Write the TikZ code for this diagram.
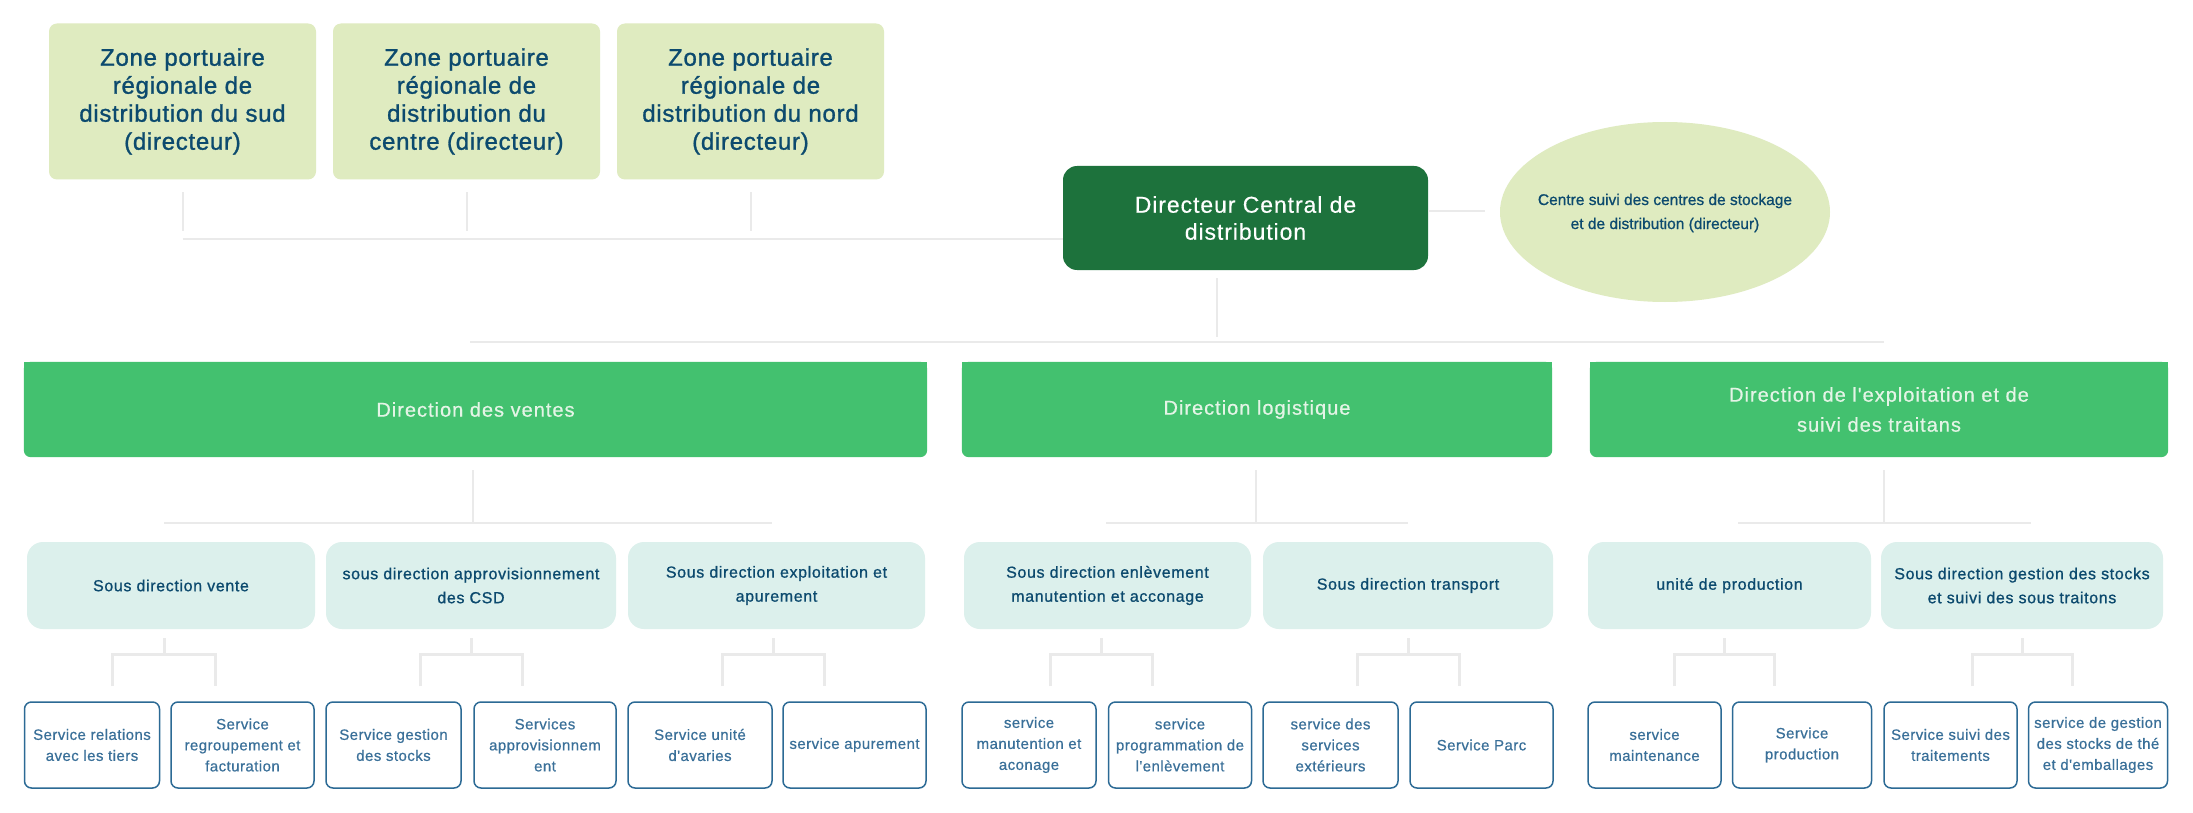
\documentclass[tikz,border=0pt]{standalone}
\usepackage{fontspec}
\setmainfont{Liberation Sans}
\newfontfamily\medF{Liberation Sans}[FakeBold=1.2,LetterSpace=3]
\newfontfamily\sousF{Liberation Sans}[FakeBold=0.9,LetterSpace=4]
\newfontfamily\regF{Liberation Sans}[FakeBold=0.4,LetterSpace=4]
\newfontfamily\dirF{Liberation Sans}[FakeBold=0.6,LetterSpace=5]
\newfontfamily\svcF{Liberation Sans}[FakeBold=0.6,LetterSpace=3]
\newfontfamily\ellF{Liberation Sans}[FakeBold=0.8]
\usetikzlibrary{backgrounds}
\definecolor{topfill}{HTML}{DFEBC0}
\definecolor{navy}{HTML}{0C4A6E}
\definecolor{dirc}{HTML}{1D723C}
\definecolor{dirg}{HTML}{43C16F}
\definecolor{dirtext}{HTML}{E4F4E6}
\definecolor{sousfill}{HTML}{DCF0EC}
\definecolor{svcblue}{HTML}{2C6A95}
\definecolor{svctext}{HTML}{3A7099}
\definecolor{linec}{HTML}{EAEAEA}
\tikzset{
  topbox/.style={fill=topfill, rounded corners=8pt, minimum width=267pt, minimum height=156pt, inner sep=0pt, align=center, text=navy, font=\medF\fontsize{24}{28}\selectfont},
  dcbox/.style={fill=dirc, rounded corners=14pt, minimum width=365pt, minimum height=104pt, inner sep=0pt, align=center, text=white, font=\regF\fontsize{23}{27}\selectfont},
  elltext/.style={inner sep=0pt, align=center, text=navy, font=\ellF\fontsize{15.5}{24}\selectfont},
  dirbox/.style={minimum height=95pt, inner sep=0pt, align=center, text=dirtext, font=\dirF\fontsize{20}{30}\selectfont},
  sousbox/.style={fill=sousfill, rounded corners=16pt, minimum height=87pt, inner sep=0pt, align=center, text=navy, font=\sousF\fontsize{16}{24}\selectfont},
  svcbox/.style={draw=svcblue, line width=1.5pt, fill=white, rounded corners=7pt, minimum height=86pt, inner sep=0pt, align=center, text=svctext, font=\svcF\fontsize{15}{21}\selectfont},
  conn/.style={draw=linec, line width=2pt},
  brk/.style={draw=linec, line width=3pt}
}
\begin{document}
\begin{tikzpicture}[x=1pt,y=-1pt]
\useasboundingbox (0,0) rectangle (2193,813);

% top level
\node[topbox] (t1) at (182.5,101.5) {Zone portuaire\\régionale de\\distribution du sud\\(directeur)};
\node[topbox] (t2) at (466.5,101.5) {Zone portuaire\\régionale de\\distribution du\\centre (directeur)};
\node[topbox] (t3) at (750.5,101.5) {Zone portuaire\\régionale de\\distribution du nord\\(directeur)};
\node[dcbox] (dc) at (1245.5,218) {Directeur Central de\\distribution};
\node[elltext] (el) at (1665,213) {Centre suivi des centres de stockage\\et de distribution (directeur)};

% directions
\node[dirbox, minimum width=903pt] (d1) at (475.5,409.5) {Direction des ventes};
\node[dirbox, minimum width=590pt] (d2) at (1257,409.5) {Direction logistique};
\node[dirbox, minimum width=578pt] (d3) at (1879,409.5) {Direction de l'exploitation et de\\suivi des traitans};
\begin{pgfonlayer}{background}
  \fill[white] (0,0) rectangle (2193,813);
  \fill[topfill] (1665,212) ellipse [x radius=165pt, y radius=90pt];
  \foreach \d in {d1,d2,d3}{
    \fill[dirg, rounded corners=7pt] (\d.north west) rectangle (\d.south east);
    \fill[dirg] (\d.north west) rectangle ([yshift=-30pt]\d.north east);
  }
\end{pgfonlayer}

% sous directions
\node[sousbox, minimum width=288pt] (s1) at (171,585.5) {Sous direction vente};
\node[sousbox, minimum width=290pt] (s2) at (471,585.5) {sous direction approvisionnement\\des CSD};
\node[sousbox, minimum width=297pt] (s3) at (776.5,585.5) {Sous direction exploitation et\\apurement};
\node[sousbox, minimum width=287pt] (s4) at (1107.5,585.5) {Sous direction enlèvement\\manutention et acconage};
\node[sousbox, minimum width=290pt] (s5) at (1408,585.5) {Sous direction transport};
\node[sousbox, minimum width=283pt] (s6) at (1729.5,585.5) {unité de production};
\node[sousbox, minimum width=282pt] (s7) at (2022,585.5) {Sous direction gestion des stocks\\et suivi des sous traitons};

% services
\node[svcbox, minimum width=135pt] (v1) at (92,745) {Service relations\\avec les tiers};
\node[svcbox, minimum width=143pt] (v2) at (242.5,745) {Service\\regroupement et\\facturation};
\node[svcbox, minimum width=135pt] (v3) at (393.5,745) {Service gestion\\des stocks};
\node[svcbox, minimum width=142pt] (v4) at (545,745) {Services\\approvisionnem\\ent};
\node[svcbox, minimum width=144pt] (v5) at (700,745) {Service unité\\d'avaries};
\node[svcbox, minimum width=143pt] (v6) at (854.5,745) {service apurement};
\node[svcbox, minimum width=134pt] (v7) at (1029,745) {service\\manutention et\\aconage};
\node[svcbox, minimum width=143pt] (v8) at (1180,745) {service\\programmation de\\l'enlèvement};
\node[svcbox, minimum width=135pt] (v9) at (1330.5,745) {service des\\services\\extérieurs};
\node[svcbox, minimum width=143pt] (v10) at (1481.5,745) {Service Parc};
\node[svcbox, minimum width=133pt] (v11) at (1654.5,745) {service\\maintenance};
\node[svcbox, minimum width=139pt] (v12) at (1802,745) {Service\\production};
\node[svcbox, minimum width=133pt] (v13) at (1950.5,745) {Service suivi des\\traitements};
\node[svcbox, minimum width=139pt] (v14) at (2098,745) {service de gestion\\des stocks de thé\\et d'emballages};

% connectors: top level
\coordinate (hTop) at (0,239);
\foreach \t in {t1,t2,t3}{
  \draw[conn] ([yshift=-12.5pt]\t.south) -- ([yshift=-51.5pt]\t.south);
}
\draw[conn] (t1.south |- hTop) -- (dc.west |- hTop);
\coordinate (hEl) at (0,211);
\coordinate (elL) at (1485,211);
\draw[conn] (dc.east |- hEl) -- (elL);
\coordinate (dcB1) at (1217,278);
\coordinate (dcB2) at (1217,337);
\draw[conn] (dcB1) -- (dcB2);
\coordinate (hDirL) at (470,342);
\coordinate (hDirR) at (1884,342);
\draw[conn] (hDirL) -- (hDirR);

% connectors: directions to sous directions
\draw[conn] (473,470) coordinate (a1) -- (473,523) coordinate (a2);
\coordinate (l1a) at (164,523); \coordinate (l1b) at (772,523);
\draw[conn] (l1a) -- (l1b);
\draw[conn] (1256,470) coordinate (b1) -- (1256,523) coordinate (b2);
\coordinate (l2a) at (1106,523); \coordinate (l2b) at (1408,523);
\draw[conn] (l2a) -- (l2b);
\draw[conn] (1884,470) coordinate (c1) -- (1884,523) coordinate (c2);
\coordinate (l3a) at (1738,523); \coordinate (l3b) at (2031,523);
\draw[conn] (l3a) -- (l3b);

% brackets under sous directions
\foreach \c/\l/\r in {164/112/215, 471/420/522, 773/722/824, 1101/1050/1152, 1408/1357/1459, 1724/1674/1774, 2022/1972/2072}{
  \draw[brk] (\c,638) -- (\c,654);
  \draw[brk] (\l,686) -- (\l,654) -- (\r,654) -- (\r,686);
}
\end{tikzpicture}
\end{document}
